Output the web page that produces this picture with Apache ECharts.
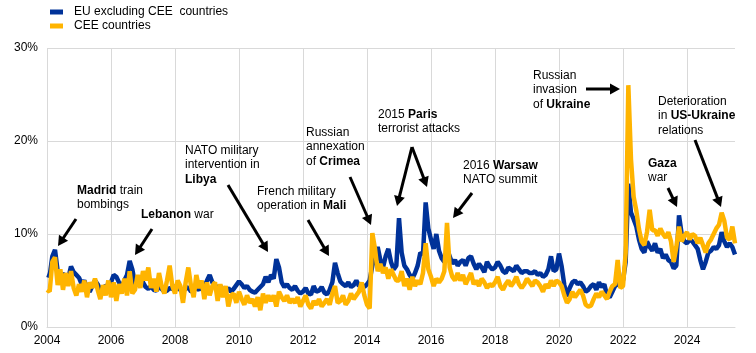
<!DOCTYPE html>
<html>
<head>
<meta charset="utf-8">
<script src="https://cdn.jsdelivr.net/npm/echarts@6/dist/echarts.min.js"></script>
<style>
  html, body { margin: 0; padding: 0; background: #fff; }
  #chart { width: 756px; height: 353px; }
</style>
</head>
<body>
<div id="chart"></div>
<script>
// monthly, Jan 2004 - Jul 2025
const months = [];
for (let y = 2004; y <= 2025; y++) {
  for (let m = 1; m <= 12; m++) {
    if (y === 2025 && m > 7) break;
    months.push(y + '-' + (m < 10 ? '0' + m : m));
  }
}

const seriesNames = ['EU excluding CEE  countries', 'CEE countries'];

// EU excluding CEE, % share
const euExCee = [
  5.6, 5.5, 7.6, 8.3, 6.0, 5.4, 5.8, 4.9, 5.3, 6.5, 5.9, 5.6,   // 2004
  5.3, 4.6, 5.0, 4.2, 3.8, 4.4, 5.0, 4.6, 4.0, 3.7, 4.5, 4.3,   // 2005
  4.8, 5.6, 5.4, 4.8, 4.2, 5.0, 5.6, 7.1, 6.2, 4.6, 4.8, 5.4,   // 2006
  4.8, 4.3, 4.1, 4.4, 4.0, 3.9, 4.3, 4.1, 3.8, 3.9, 4.2, 4.1,   // 2007
  4.4, 4.2, 4.0, 3.9, 4.1, 4.3, 3.8, 3.9, 4.2, 4.0, 4.5, 4.3,   // 2008
  5.0, 5.6, 4.8, 4.5, 4.2, 4.4, 4.0, 3.9, 4.2, 3.8, 4.1, 4.5,   // 2009
  4.9, 4.6, 4.2, 4.4, 4.0, 3.8, 3.7, 4.0, 4.3, 4.6, 5.4, 4.8,   // 2010
  5.6, 5.2, 7.3, 6.4, 4.8, 4.3, 4.6, 4.2, 4.0, 4.4, 3.9, 3.6,   // 2011
  3.8, 4.2, 3.6, 3.5, 4.4, 3.8, 3.9, 4.3, 3.7, 3.5, 4.0, 4.8,   // 2012
  6.9, 5.8, 4.9, 4.6, 4.4, 4.8, 4.3, 4.5, 5.0, 4.4, 4.6, 4.3,   // 2013
  4.6, 5.0, 6.6, 7.6, 8.6, 7.2, 6.4, 7.6, 8.4, 7.0, 6.2, 6.6,   // 2014
  11.7, 8.0, 6.6, 6.2, 5.6, 5.2, 5.8, 6.6, 8.0, 7.8, 13.4, 10.6, // 2015
  9.4, 8.4, 10.0, 8.2, 7.4, 7.0, 8.4, 7.6, 6.8, 7.2, 6.6, 7.0,  // 2016
  7.2, 6.6, 7.4, 7.6, 6.8, 6.2, 6.8, 6.4, 5.9, 7.0, 6.5, 6.2,   // 2017
  6.4, 7.0, 6.6, 6.0, 5.8, 6.4, 6.2, 6.0, 6.6, 6.2, 5.8, 6.0,   // 2018
  6.0, 5.8, 5.8, 6.0, 5.6, 5.8, 5.4, 5.6, 6.2, 7.6, 6.0, 6.2,   // 2019
  7.9, 6.5, 4.5, 3.3, 4.2, 4.8, 5.0, 4.6, 4.8, 4.4, 3.8, 4.0,   // 2020
  4.4, 4.6, 4.0, 4.8, 4.3, 4.6, 3.4, 3.2, 3.8, 4.4, 4.6, 5.0,   // 2021
  5.0, 7.0, 15.4, 12.3, 11.6, 10.8, 9.4, 8.4, 8.0, 9.2, 8.6, 8.2, // 2022
  9.0, 8.0, 8.4, 7.4, 7.8, 7.2, 7.0, 6.3, 6.6, 12.0, 10.0, 9.2, // 2023
  9.0, 9.4, 9.2, 8.8, 8.4, 7.2, 6.2, 7.0, 8.0, 8.2, 8.6, 8.4,   // 2024
  8.8, 10.2, 9.2, 8.6, 9.0, 8.6, 7.8                            // 2025
];

// CEE countries, % share
const cee = [
  4.0, 3.8, 7.0, 7.5, 4.5, 6.2, 4.0, 5.8, 4.4, 6.0, 4.2, 3.4,   // 2004
  4.6, 3.8, 5.0, 3.2, 4.8, 4.2, 5.2, 4.0, 3.0, 4.5, 3.4, 5.0,   // 2005
  3.2, 4.8, 2.8, 4.6, 3.6, 5.2, 3.4, 6.0, 3.6, 4.0, 5.6, 4.2,   // 2006
  6.0, 5.0, 6.4, 4.2, 5.2, 3.8, 5.8, 4.4, 3.6, 5.0, 6.6, 4.4,   // 2007
  3.6, 5.0, 4.4, 2.6, 4.8, 6.4, 4.4, 3.2, 5.6, 4.2, 5.0, 3.0,   // 2008
  4.8, 3.4, 4.4, 4.8, 2.8, 4.6, 3.2, 4.4, 2.2, 3.4, 3.6, 2.6,   // 2009
  3.8, 3.0, 2.4, 3.4, 2.6, 3.0, 2.2, 3.2, 1.8, 3.6, 2.6, 3.4,   // 2010
  2.8, 3.4, 2.2, 3.8, 3.2, 2.8, 3.4, 2.6, 3.0, 2.6, 3.2, 2.2,   // 2011
  2.8, 3.4, 2.4, 2.0, 2.8, 2.4, 3.0, 2.2, 2.6, 3.0, 2.4, 3.6,   // 2012
  4.4, 2.6, 2.8, 3.4, 2.4, 2.8, 3.6, 3.0, 3.4, 3.8, 4.8, 3.4,   // 2013
  2.4, 2.0, 10.1, 8.4, 6.0, 6.8, 5.8, 6.4, 5.2, 6.2, 5.6, 5.0,  // 2014
  5.0, 6.0, 4.4, 5.2, 4.0, 5.4, 4.4, 5.0, 4.6, 5.8, 9.0, 6.2,   // 2015
  5.4, 4.4, 5.2, 4.8, 5.2, 6.0, 11.2, 6.4, 5.4, 5.0, 5.8, 5.0,  // 2016
  5.6, 4.6, 5.2, 5.8, 4.6, 5.0, 4.4, 5.2, 4.8, 4.2, 4.6, 4.4,   // 2017
  4.8, 5.4, 4.4, 4.0, 4.6, 5.0, 4.4, 4.8, 5.4, 4.6, 4.2, 4.6,   // 2018
  5.2, 4.8, 4.4, 5.0, 4.8, 4.4, 3.8, 4.6, 4.2, 5.0, 4.4, 5.0,   // 2019
  4.8, 4.4, 3.4, 2.6, 3.0, 3.8, 3.2, 3.6, 4.0, 3.4, 2.4, 2.2,   // 2020
  2.3, 3.0, 3.6, 3.2, 3.8, 3.4, 3.0, 3.8, 4.4, 4.6, 7.2, 4.2,   // 2021
  4.4, 8.0, 26.0, 18.0, 14.0, 12.5, 10.5, 9.2, 8.8, 10.2, 12.6, 10.4, // 2022
  10.4, 9.8, 10.6, 10.0, 9.6, 10.2, 9.2, 7.0, 8.6, 10.8, 9.2, 9.8, // 2023
  10.2, 9.4, 10.0, 9.8, 9.0, 9.6, 8.8, 8.0, 9.0, 9.4, 10.0, 10.6, // 2024
  11.0, 12.3, 11.4, 9.6, 9.4, 10.8, 9.0                          // 2025
];

const yTicks = [0, 10, 20, 30];

const FONT = '"Liberation Sans", Arial, sans-serif';

function note(x, y, text) {
  return {
    type: 'text', left: x, top: y, z: 100,
    style: {
      text: text,
      font: '12px ' + FONT,
      fill: '#000',
      lineHeight: 14.5,
      rich: { b: { fontWeight: 'bold', fontSize: 12, fontFamily: FONT, lineHeight: 14.5 } }
    }
  };
}

function arrow(x1, y1, x2, y2) {
  const dx = x2 - x1, dy = y2 - y1;
  const len = Math.sqrt(dx * dx + dy * dy);
  const ux = dx / len, uy = dy / len;
  const hl = 10, hw = 5.5;
  const bx = x2 - ux * hl, by = y2 - uy * hl;
  return [
    {
      type: 'line', z: 100,
      shape: { x1: x1, y1: y1, x2: bx + ux, y2: by + uy },
      style: { stroke: '#000', lineWidth: 3 }
    },
    {
      type: 'polygon', z: 100,
      shape: { points: [[x2, y2], [bx - uy * hw, by + ux * hw], [bx + uy * hw, by - ux * hw]] },
      style: { fill: '#000' }
    }
  ];
}

const graphics = [].concat(
  note(77, 183, '{b|Madrid} train\nbombings'),
  arrow(76, 219, 58, 246),
  note(141, 207, '{b|Lebanon} war'),
  arrow(152, 229, 135, 255),
  note(185, 143, 'NATO military\nintervention in\n{b|Libya}'),
  arrow(228, 185, 268, 252),
  note(257, 184, 'French military\noperation in {b|Mali}'),
  arrow(308, 220, 329, 256),
  note(306, 125, 'Russian\nannexation\nof {b|Crimea}'),
  arrow(350, 177, 371, 225),
  note(378, 107, '2015 {b|Paris}\nterrorist attacks'),
  arrow(412, 147, 397, 206),
  arrow(412, 147, 427, 187),
  note(463, 158, '2016 {b|Warsaw}\nNATO summit'),
  arrow(472, 193, 453, 218),
  note(533, 68, 'Russian\ninvasion\nof {b|Ukraine}'),
  arrow(586, 89, 620, 89),
  note(658, 94, 'Deterioration\nin {b|US-Ukraine}\nrelations'),
  arrow(695, 140, 721, 207),
  note(648, 156, '{b|Gaza}\nwar'),
  arrow(668, 188, 677, 207)
);

const chart = echarts.init(document.getElementById('chart'));
chart.setOption({
  animation: false,
  textStyle: { fontFamily: FONT },
  color: ['#003299', '#FFB400'],
  legend: {
    orient: 'vertical',
    left: 45,
    top: 1,
    icon: 'rect',
    itemWidth: 13,
    itemHeight: 5,
    itemGap: 2,
    data: seriesNames,
    textStyle: { fontSize: 12, color: '#000', padding: [0, 0, 0, 6], fontFamily: FONT }
  },
  grid: { left: 47, right: 21, top: 48, bottom: 26, containLabel: false },
  xAxis: {
    type: 'category',
    data: months,
    boundaryGap: false,
    axisLine: { lineStyle: { color: '#d9d9d9' } },
    axisTick: { show: false },
    axisLabel: {
      interval: (i) => i % 24 === 0,
      formatter: (v) => v.slice(0, 4),
      color: '#000', fontSize: 12, margin: 8
    },
    splitLine: {
      show: true,
      interval: (i) => i % 24 === 0,
      lineStyle: { color: '#d9d9d9', width: 1 }
    }
  },
  yAxis: {
    type: 'value',
    min: yTicks[0],
    max: yTicks[yTicks.length - 1],
    interval: 10,
    axisLine: { show: false },
    axisTick: { show: false },
    axisLabel: { formatter: '{value}%', color: '#000', fontSize: 12, margin: 9 },
    splitLine: { lineStyle: { color: '#d9d9d9', width: 1 } }
  },
  series: [
    {
      name: seriesNames[0], type: 'line', data: euExCee,
      showSymbol: false, lineStyle: { width: 4.5 }, z: 2
    },
    {
      name: seriesNames[1], type: 'line', data: cee,
      showSymbol: false, lineStyle: { width: 4.5 }, z: 3
    }
  ],
  graphic: graphics
});
</script>
</body>
</html>
